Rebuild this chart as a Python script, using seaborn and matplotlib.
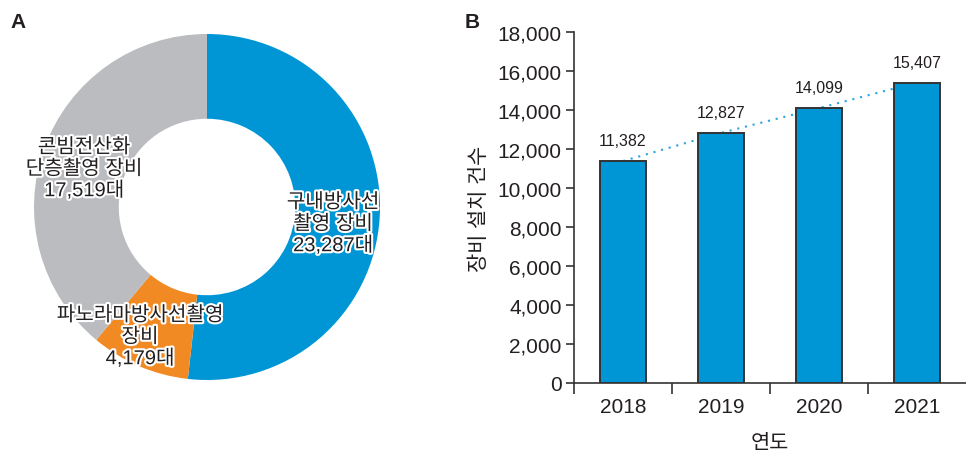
import matplotlib
matplotlib.use("Agg")
import matplotlib.pyplot as plt
import matplotlib.patheffects as pe
from matplotlib.ticker import FuncFormatter, FixedLocator
import seaborn as sns
import numpy as np
import pandas as pd

# ---- data ----
pie_labels = ["구내방사선\n촬영 장비\n23,287대", "파노라마방사선촬영\n장비\n4,179대", "콘빔전산화\n단층촬영 장비\n17,519대"]
pie_values = [23287, 4179, 17519]
pie_colors = ["#0096D6", "#F28A24", "#BBBCBF"]

years = ["2018", "2019", "2020", "2021"]
counts = [11382, 12827, 14099, 15407]
y_ticks = list(range(0, 18001, 2000))

sns.set_style("ticks")
plt.rcParams["font.family"] = ["Liberation Sans", "Noto Sans CJK KR", "DejaVu Sans"]
TXT = "#231F20"

W, H = 966, 452
fig = plt.figure(figsize=(W / 100, H / 100), dpi=100)

# ---- A: donut ----
cx, cy, R = 207, 208, 173
axA = fig.add_axes([(cx - R) / W, (H - cy - R) / H, 2 * R / W, 2 * R / H])
axA.pie(pie_values, colors=pie_colors, startangle=90, counterclock=False,
        radius=1.0, wedgeprops=dict(width=0.49, linewidth=0))
axA.set_xlim(-1, 1)
axA.set_ylim(-1, 1)
axA.set_aspect("equal")

def px2d(px, py):
    return (px - cx) / R, (cy - py) / R

label_pos = [(333, 225), (140, 338), (84, 170)]
stroke = [pe.withStroke(linewidth=3, foreground="white")]
for lab, (px, py) in zip(pie_labels, label_pos):
    x, y = px2d(px, py)
    axA.text(x, y, lab, ha="center", va="center", fontsize=14.5, color=TXT,
             linespacing=1.18, path_effects=stroke,
             family=["Liberation Sans", "Noto Sans CJK KR"])

fig.text(18 / W, 1 - 22 / H, "A", fontsize=15, fontweight="bold", ha="center", va="center", color=TXT)
fig.text(472 / W, 1 - 22 / H, "B", fontsize=15, fontweight="bold", ha="center", va="center", color=TXT)

# ---- B: bars ----
L, Rr, B, T = 574, 966, 384, 33
axB = fig.add_axes([L / W, (H - B) / H, (Rr - L) / W, (B - T) / H])
df = pd.DataFrame({"year": years, "count": counts})
pos = np.arange(len(years))
axB.plot(pos, counts, linestyle=(0, (1, 2.8)), color="#2AA6DF", linewidth=1.5, zorder=1)
sns.barplot(data=df, x="year", y="count", color="#0096D6", saturation=1, width=0.46,
            edgecolor="#333333", linewidth=1.4, ax=axB, zorder=2)
for p, v in zip(pos, counts):
    axB.text(p, v + 650, f"{v:,}", ha="center", va="bottom", fontsize=11.5, color=TXT)

axB.set_xlim(-0.5, 3.5)
axB.set_ylim(0, 18000)
axB.set_yticks(y_ticks)
axB.yaxis.set_major_formatter(FuncFormatter(lambda v, _: f"{int(v):,}"))
axB.set_xticks(pos)
axB.set_xticklabels(years)
axB.xaxis.set_minor_locator(FixedLocator([-0.5, 0.5, 1.5, 2.5]))
axB.tick_params(axis="x", which="major", length=0, pad=10, labelsize=15, labelcolor=TXT)
axB.tick_params(axis="x", which="minor", length=8, width=1.2, color="#333333")
axB.tick_params(axis="y", length=6, width=1.2, color="#333333", labelsize=15, labelcolor=TXT, pad=3)
for s in ["top", "right"]:
    axB.spines[s].set_visible(False)
for s in ["left", "bottom"]:
    axB.spines[s].set_color("#333333")
    axB.spines[s].set_linewidth(1.2)
axB.set_xlabel("연도", fontsize=15, color=TXT, labelpad=12)
axB.set_ylabel("장비 설치 건수", fontsize=15, color=TXT, labelpad=6)

fig.savefig("out.png", dpi=100)
